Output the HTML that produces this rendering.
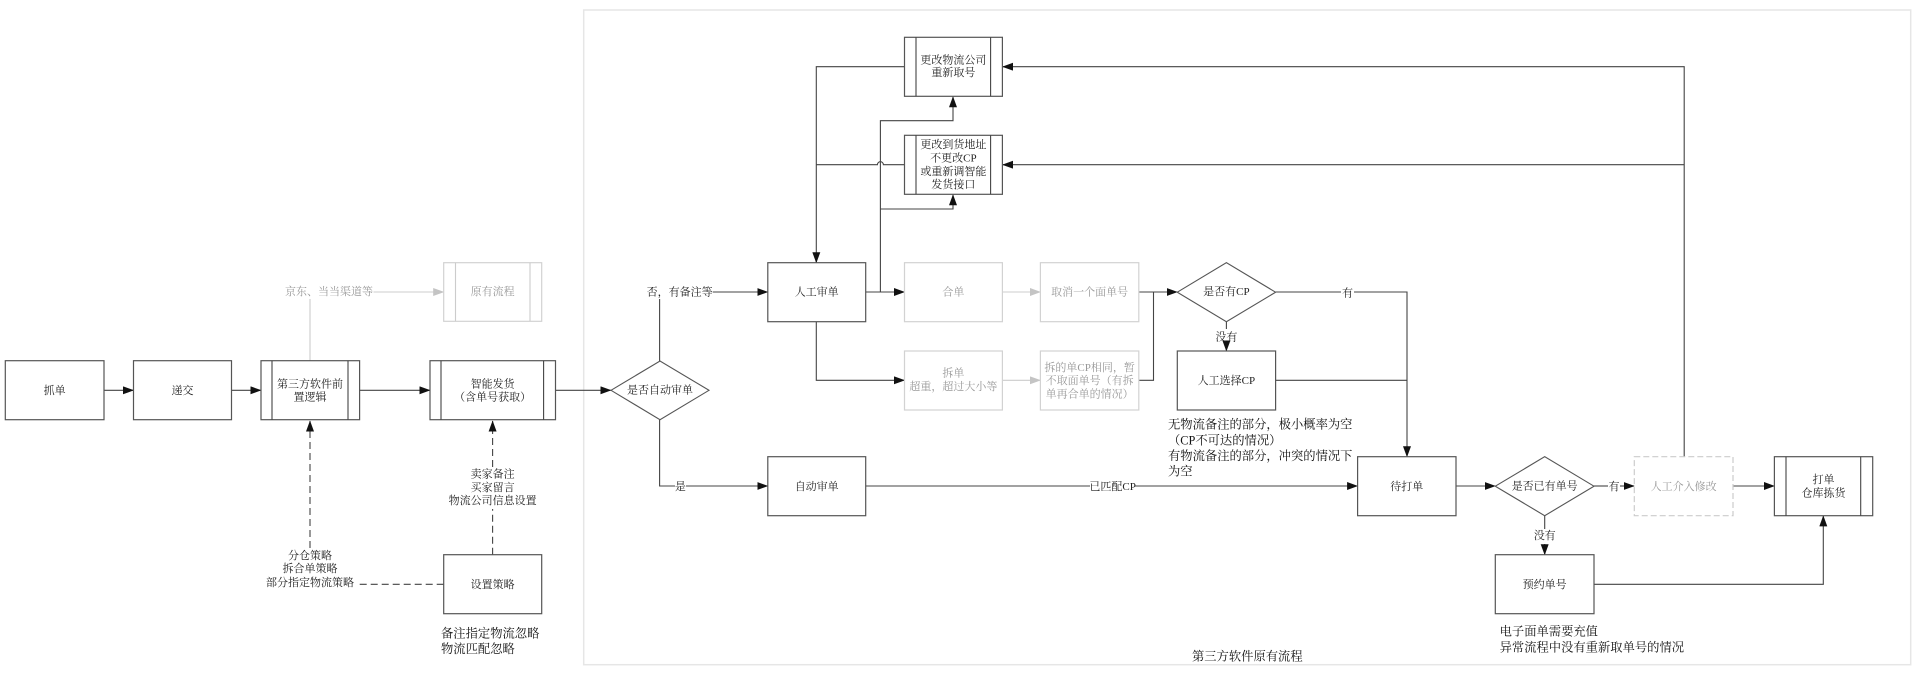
<!DOCTYPE html>
<html><head><meta charset="utf-8"><style>
html,body{margin:0;padding:0;background:#fff}
svg{display:block}
text{font-family:"Liberation Serif","Noto Serif CJK SC",serif;font-size:11px;fill:#222;text-anchor:middle;dominant-baseline:central}
.g{fill:#999}
.n{font-size:12.3px;text-anchor:start;fill:#111}
.b{fill:#fff;stroke:#555;stroke-width:1.2}
.bg{fill:#fff;stroke:#d2d2d2;stroke-width:1.2}
.l{fill:none;stroke:#444;stroke-width:1.1}
.lg{fill:none;stroke:#ccc;stroke-width:1.1}
.d{fill:none;stroke:#444;stroke-width:1.1;stroke-dasharray:7 4}
</style></head><body>
<svg width="1912" height="674" viewBox="0 0 1912 674" xmlns="http://www.w3.org/2000/svg">
<defs>
<marker id="a" markerUnits="userSpaceOnUse" markerWidth="11" markerHeight="8" refX="10.5" refY="4" orient="auto"><path d="M0 0L11 4L0 8z" fill="#111"/></marker>
<marker id="ag" markerUnits="userSpaceOnUse" markerWidth="11" markerHeight="8" refX="10.5" refY="4" orient="auto"><path d="M0 0L11 4L0 8z" fill="#c4c4c4"/></marker>
</defs>

<rect x="583.7" y="10" width="1327" height="654.7" fill="none" stroke="#e6e6e6" stroke-width="1.5"/>

<!-- connectors -->
<path class="l" marker-end="url(#a)" d="M104 390.3H133.5"/>
<path class="l" marker-end="url(#a)" d="M231.5 390.3H261"/>
<path class="l" marker-end="url(#a)" d="M359.6 390.3H430"/>
<path class="l" marker-end="url(#a)" d="M555.5 390.3H611"/>
<path class="lg" d="M310 360.7V299"/>
<path class="lg" marker-end="url(#ag)" d="M373.5 292H443.7"/>
<path class="d" marker-end="url(#a)" d="M310 548V421"/>
<path class="d" d="M443.7 584.3H357.5"/>
<path class="d" d="M492.6 554.7V509"/>
<path class="d" marker-end="url(#a)" d="M492.6 467V421"/>

<path class="l" d="M659.6 361V299"/>
<path class="l" marker-end="url(#a)" d="M712.7 292H767.8"/>
<path class="l" d="M659.6 419.7V486H675"/>
<path class="l" marker-end="url(#a)" d="M686 486H767.8"/>
<path class="l" marker-end="url(#a)" d="M904.5 66.7H816.3V262.7"/>
<path class="l" d="M904.5 164.7H883.4a3 3 0 0 0-6 0H816.3"/>
<path class="l" marker-end="url(#a)" d="M865.7 292H904.5"/>
<path class="l" marker-end="url(#a)" d="M880.4 292V120.7H953V96.8"/>
<path class="l" marker-end="url(#a)" d="M880.4 209H953V194.8"/>
<path class="l" marker-end="url(#a)" d="M816.3 321.7V380.3H904.5"/>
<path class="lg" marker-end="url(#ag)" d="M1002.4 292H1040.4"/>
<path class="lg" marker-end="url(#ag)" d="M1002.4 380.3H1040.4"/>
<path class="l" marker-end="url(#a)" d="M1138.8 292H1177.3"/>
<path class="l" d="M1138.8 380.3H1153.5V292"/>
<path class="l" d="M865.7 486H1090"/>
<path class="l" marker-end="url(#a)" d="M1135 486H1357.6"/>
<path class="l" d="M1275.6 292H1341"/>
<path class="l" marker-end="url(#a)" d="M1354 292H1407V456.7"/>
<path class="l" d="M1275.6 380.3H1407"/>
<path class="l" d="M1226.4 321.7V329"/>
<path class="l" marker-end="url(#a)" d="M1226.4 345V351"/>
<path class="l" marker-end="url(#a)" d="M1456 486H1495.3"/>
<path class="l" d="M1594 486H1608"/>
<path class="l" marker-end="url(#a)" d="M1620 486H1634.3"/>
<path class="l" marker-end="url(#a)" d="M1733 486H1774.4"/>
<path class="l" d="M1544.7 515.7V529"/>
<path class="l" marker-end="url(#a)" d="M1544.7 544V554.7"/>
<path class="l" marker-end="url(#a)" d="M1594 584.3H1823.3V515.9"/>
<path class="l" marker-end="url(#a)" d="M1684.2 456.7V66.7H1002.6"/>
<path class="l" marker-end="url(#a)" d="M1684.2 164.7H1002.6"/>

<!-- left nodes -->
<rect class="b" x="5.3" y="360.7" width="98.7" height="59"/>
<text x="54.6" y="391">抓单</text>
<rect class="b" x="133.5" y="360.7" width="98" height="59"/>
<text x="182.5" y="391">递交</text>
<rect class="b" x="261" y="360.7" width="98.6" height="59"/>
<path class="l" d="M272 360.7V419.7M348 360.7V419.7"/>
<text x="310" y="384.3">第三方软件前</text>
<text x="310" y="397.6">置逻辑</text>
<rect class="b" x="430" y="360.7" width="125.5" height="59"/>
<path class="l" d="M441 360.7V419.7M543.6 360.7V419.7"/>
<text x="492.6" y="384.3">智能发货</text>
<text x="492.6" y="397.3">（含单号获取）</text>
<rect class="bg" x="443.7" y="262.7" width="98" height="58.6"/>
<path class="lg" d="M455.5 262.7V321.3M530 262.7V321.3"/>
<text class="g" x="492.6" y="292">原有流程</text>
<text class="g" x="329" y="292">京东、当当渠道等</text>
<rect class="b" x="443.7" y="554.7" width="98" height="59"/>
<text x="492.6" y="585">设置策略</text>
<text x="492.6" y="474.3">卖家备注</text>
<text x="492.6" y="488">买家留言</text>
<text x="492.6" y="501">物流公司信息设置</text>
<text x="310" y="556">分仓策略</text>
<text x="310" y="569">拆合单策略</text>
<text x="310" y="583">部分指定物流策略</text>
<text class="n" x="441" y="633.7">备注指定物流忽略</text>
<text class="n" x="441" y="649">物流匹配忽略</text>

<!-- center nodes -->
<path class="b" d="M611 390.3L660 361L709 390.3L660 419.7Z" style="stroke-width:1.1"/>
<text x="660" y="390.5">是否自动审单</text>
<text x="679.6" y="292.3">否，有备注等</text>
<text x="680.4" y="487">是</text>

<rect class="b" x="904.5" y="37.3" width="97.9" height="59"/>
<path class="l" d="M916 37.3V96.3M990.6 37.3V96.3"/>
<text x="953.4" y="60.3">更改物流公司</text>
<text x="953.4" y="73">重新取号</text>
<rect class="b" x="904.5" y="135.3" width="97.9" height="59"/>
<path class="l" d="M916 135.3V194.3M990.6 135.3V194.3"/>
<text x="953.4" y="145">更改到货地址</text>
<text x="953.4" y="158.3">不更改CP</text>
<text x="953.4" y="172">或重新调智能</text>
<text x="953.4" y="185">发货接口</text>

<rect class="b" x="767.8" y="262.7" width="97.9" height="59"/>
<text x="816.7" y="292.3">人工审单</text>
<rect class="b" x="767.8" y="456.7" width="97.9" height="59"/>
<text x="816.7" y="487">自动审单</text>
<text x="1112.6" y="487">已匹配CP</text>

<rect class="bg" x="904.5" y="262.7" width="97.9" height="59"/>
<text class="g" x="953.4" y="292.3">合单</text>
<rect class="bg" x="1040.4" y="262.7" width="98.4" height="59"/>
<text class="g" x="1089.6" y="292.3">取消一个面单号</text>
<rect class="bg" x="904.5" y="351" width="97.9" height="59"/>
<text class="g" x="953.4" y="373.7">拆单</text>
<text class="g" x="953.4" y="387">超重，超过大小等</text>
<rect class="bg" x="1040.4" y="351" width="98.4" height="59"/>
<text class="g" x="1089.6" y="368">拆的单CP相同，暂</text>
<text class="g" x="1089.6" y="381">不取面单号（有拆</text>
<text class="g" x="1089.6" y="394.5">单再合单的情况）</text>

<path class="b" d="M1177.3 292.2L1226.4 262.7L1275.6 292.2L1226.4 321.7Z" style="stroke-width:1.1"/>
<text x="1226.4" y="292.2">是否有CP</text>
<text x="1347.5" y="293.7">有</text>
<text x="1226.4" y="337.3">没有</text>
<rect class="b" x="1177.3" y="351" width="98.3" height="59"/>
<text x="1226.4" y="381">人工选择CP</text>
<text class="n" x="1168" y="424.7">无物流备注的部分，极小概率为空</text>
<text class="n" x="1168" y="440.3">（CP不可达的情况）</text>
<text class="n" x="1168" y="456">有物流备注的部分，冲突的情况下</text>
<text class="n" x="1168" y="471.7">为空</text>

<!-- right nodes -->
<rect class="b" x="1357.6" y="456.7" width="98.4" height="59"/>
<text x="1406.8" y="487">待打单</text>
<path class="b" d="M1495.3 486.2L1544.7 456.7L1594 486.2L1544.7 515.7Z" style="stroke-width:1.1"/>
<text x="1544.7" y="486.5">是否已有单号</text>
<text x="1614" y="487">有</text>
<text x="1544.7" y="536">没有</text>
<rect x="1634.3" y="456.7" width="98.7" height="59" fill="#fff" stroke="#ccc" stroke-width="1.2" stroke-dasharray="6 3"/>
<text class="g" x="1683.6" y="487">人工介入修改</text>
<rect class="b" x="1774.4" y="456.7" width="98.3" height="59"/>
<path class="l" d="M1786 456.7V515.7M1860.7 456.7V515.7"/>
<text x="1823.5" y="480">打单</text>
<text x="1823.5" y="493.3">仓库拣货</text>
<rect class="b" x="1495.3" y="554.7" width="98.7" height="59"/>
<text x="1544.7" y="585">预约单号</text>
<text class="n" x="1499.6" y="631.3">电子面单需要充值</text>
<text class="n" x="1499.6" y="647.3">异常流程中没有重新取单号的情况</text>
<text x="1247.3" y="656.7" style="font-size:12.3px;fill:#111">第三方软件原有流程</text>
</svg>
</body></html>
